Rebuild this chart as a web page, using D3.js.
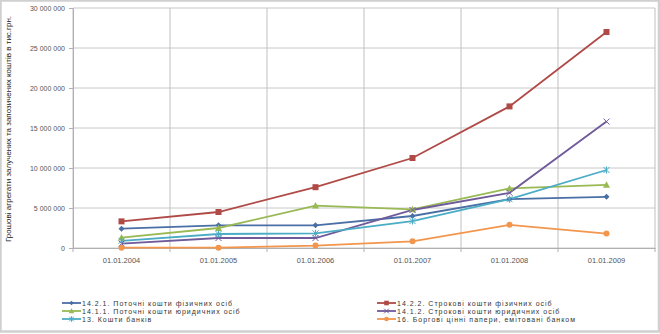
<!DOCTYPE html>
<html><head><meta charset="utf-8">
<script src="https://cdn.jsdelivr.net/npm/d3@7"></script>
<style>body{margin:0;background:#fff;}svg{display:block;font-family:"Liberation Sans",Arial,sans-serif;}</style>
</head><body><svg id="c" width="660" height="334"></svg>
<script>
const categories = ["01.01.2004","01.01.2005","01.01.2006","01.01.2007","01.01.2008","01.01.2009"];
const seriesNames = [
  "14.2.1. Поточні кошти фізичних осіб",
  "14.2.2. Строкові кошти фізичних осіб",
  "14.1.1. Поточні кошти юридичних осіб",
  "14.1.2. Строкові кошти юридичних осіб",
  "13. Кошти банків",
  "16. Боргові цінні папери, емітовані банком"
];
const s1421 = [2420000, 2830000, 2830000, 4000000, 6100000, 6400000];
const s1422 = [3330000, 4500000, 7600000, 11250000, 17700000, 27000000];
const s1411 = [1300000, 2500000, 5300000, 4830000, 7460000, 7900000];
const s1412 = [550000, 1250000, 1250000, 4750000, 6900000, 15800000];
const s13   = [900000, 1750000, 1830000, 3370000, 6100000, 9750000];
const s16   = [40000, 40000, 300000, 830000, 2900000, 1800000];
const yTicks = [0, 5000000, 10000000, 15000000, 20000000, 25000000, 30000000];
const yTitle = "Грошові агрегати залучених та запозичених коштів в тис.грн.";

const seriesValues = [s1421, s1422, s1411, s1412, s13, s16];
const colors = ["#4a6fa5", "#b04a47", "#98b954", "#6f5a9a", "#4bacc6", "#f3964d"];
const markers = ["diamond", "square", "triangle", "cross", "star", "circle"];

const svg = d3.select("#c");
const W = 660, H = 334;
svg.append("rect").attr("x",0.5).attr("y",0.5).attr("width",W-1.5).attr("height",H-3)
  .attr("fill","#fff").attr("stroke","#d0d0d0").attr("stroke-width",2.5);

const m = {left:73, right:655, top:8, bottom:248};
const x = d3.scaleBand().domain(categories).range([m.left, m.right]);
const y = d3.scaleLinear().domain([0, 30000000]).range([m.bottom, m.top]);

const g = svg.append("g");
g.selectAll(".hg").data(yTicks).join("line")
  .attr("x1", m.left).attr("x2", m.right)
  .attr("y1", d=>y(d)).attr("y2", d=>y(d))
  .attr("stroke","#c8c8c8").attr("stroke-width",1);
const vb = categories.map(c=>x(c)).concat([m.right]);
g.selectAll(".vg").data(vb).join("line")
  .attr("x1", d=>d).attr("x2", d=>d)
  .attr("y1", m.top).attr("y2", m.bottom)
  .attr("stroke","#c0c0c0").attr("stroke-width",1);

const yAxis = d3.axisLeft(y).tickValues(yTicks)
  .tickFormat(d => d3.format(",")(d).replace(/,/g," ")).tickSize(4).tickPadding(4);
const ya = svg.append("g").attr("transform",`translate(${m.left},0)`).call(yAxis);
ya.select(".domain").attr("stroke","#b0b0b0");
ya.selectAll(".tick line").attr("stroke","#b0b0b0");
ya.selectAll("text").attr("font-size",7).attr("fill","#555");

const xAxis = d3.axisBottom(x).tickSize(0).tickPadding(10);
const xa = svg.append("g").attr("transform",`translate(0,${m.bottom})`).call(xAxis);
xa.select(".domain").attr("stroke","#b0b0b0");
xa.selectAll("text").attr("font-size",7.5).attr("fill","#555");
xa.selectAll(".bt").data(vb).join("line").attr("class","bt")
  .attr("x1",d=>d).attr("x2",d=>d).attr("y1",0).attr("y2",4).attr("stroke","#b0b0b0");

svg.append("text").attr("transform","translate(11,129) rotate(-90)")
  .attr("text-anchor","middle").attr("font-size",8).attr("fill","#222").text(yTitle);

const cx = c => x(c) + x.bandwidth()/2;
function drawMarker(sel, type, color, s){
  if(type==="diamond") sel.append("path").attr("d",`M0,${-s}L${s},0L0,${s}L${-s},0Z`).attr("fill",color);
  else if(type==="square") sel.append("rect").attr("x",-s).attr("y",-s).attr("width",2*s).attr("height",2*s).attr("fill",color);
  else if(type==="triangle") sel.append("path").attr("d",`M0,${-s-0.5}L${s+0.5},${s}L${-s-0.5},${s}Z`).attr("fill",color);
  else if(type==="cross") sel.append("path").attr("d",`M${-s},${-s}L${s},${s}M${-s},${s}L${s},${-s}`).attr("stroke",color).attr("stroke-width",1);
  else if(type==="star") sel.append("path").attr("d",`M${-s},${-s}L${s},${s}M${-s},${s}L${s},${-s}M0,${-s-0.5}L0,${s+0.5}`).attr("stroke",color).attr("stroke-width",1);
  else if(type==="circle") sel.append("circle").attr("r",s).attr("fill",color);
}

const line = d3.line().x((d,i)=>cx(categories[i])).y(d=>y(d));
seriesValues.forEach((vals, k) => {
  svg.append("path").datum(vals).attr("d", line)
    .attr("fill","none").attr("stroke",colors[k]).attr("stroke-width",1.8);
});
seriesValues.forEach((vals, k) => {
  vals.forEach((v,i) => {
    const gg = svg.append("g").attr("transform",`translate(${cx(categories[i])},${y(v)})`);
    drawMarker(gg, markers[k], colors[k], 3);
  });
});

const legPos = [[62,303],[377,303],[62,311],[377,311],[62,319],[377,319]];
seriesNames.forEach((n,k)=>{
  const [lx,ly] = legPos[k];
  const lg = svg.append("g").attr("transform",`translate(${lx},${ly})`);
  lg.append("line").attr("x1",0).attr("x2",19).attr("y1",0).attr("y2",0).attr("stroke",colors[k]).attr("stroke-width",1.8);
  const mg = lg.append("g").attr("transform","translate(9.5,0)");
  drawMarker(mg, markers[k], colors[k], 2.3);
  lg.append("text").attr("x",20).attr("y",2.5).attr("font-size",7).attr("letter-spacing",1).attr("fill","#333").text(n);
});
</script></body></html>
